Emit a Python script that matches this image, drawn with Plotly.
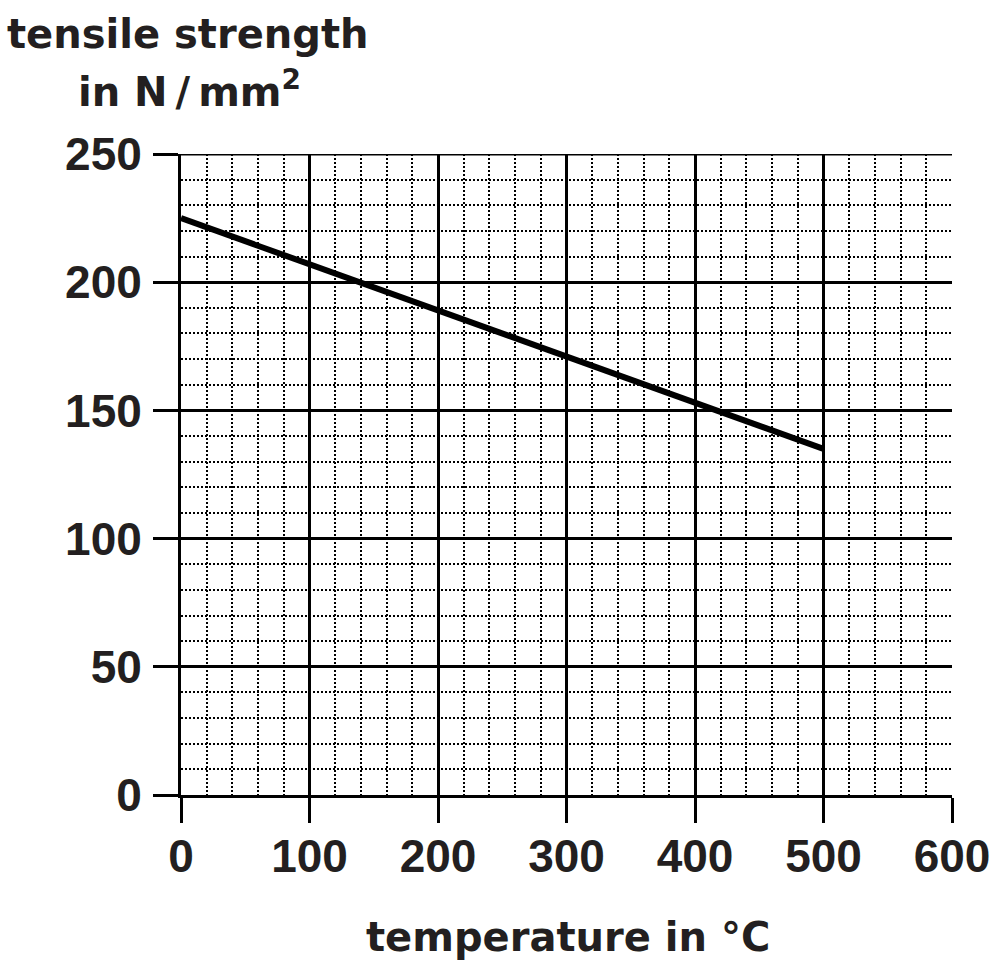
import plotly.graph_objects as go

temperature = [0, 500]
tensile_strength = [225, 135]
x_ticks = [0, 100, 200, 300, 400, 500, 600]
y_ticks = [0, 50, 100, 150, 200, 250]

TICK_FONT = "Liberation Sans"
TITLE_FONT = "DejaVu Sans"
INK = "#231f20"

fig = go.Figure()
fig.add_trace(go.Scatter(
    x=temperature, y=tensile_strength, mode="lines",
    line=dict(color="black", width=6), showlegend=False, hoverinfo="skip"))

axis_common = dict(
    showline=True, linecolor="black", linewidth=3, mirror=False,
    showgrid=True, gridcolor="black", gridwidth=2.5,
    ticks="outside", ticklen=25, tickwidth=3, tickcolor="black",
    zeroline=False, automargin=False,
    tickfont=dict(family=TICK_FONT, size=46, color=INK, weight="bold"),
)

fig.update_xaxes(
    range=[0, 600], tickvals=x_ticks, ticktext=[str(v) for v in x_ticks],
    minor=dict(dtick=20, showgrid=True, gridcolor="black", gridwidth=2,
               griddash="2px,2px", ticks=""),
    ticklabelstandoff=-6,
    **axis_common)
fig.update_yaxes(
    range=[0, 250], tickvals=y_ticks, ticktext=[str(v) for v in y_ticks],
    minor=dict(dtick=10, showgrid=True, gridcolor="black", gridwidth=2,
               griddash="2px,2px", ticks=""),
    ticklabelstandoff=2,
    **axis_common)

# top border line extending over the 250 tick
fig.add_shape(type="line", xref="paper", yref="y", x0=-25/771, x1=1, y0=250, y1=250,
              line=dict(color="black", width=3))

PW, PH, X0, Y0 = 771, 641, 181, 154

def px(x):
    return (x - X0) / PW

def py(y):
    return 1 - (y - Y0) / PH

fig.add_annotation(text="<b>tensile strength</b>", xref="paper", yref="paper",
                   x=px(188), y=py(34), showarrow=False,
                   font=dict(family=TITLE_FONT, size=40, color=INK),
                   xanchor="center", yanchor="middle")
fig.add_annotation(text="<b>in N\u2009/\u2009mm<sup>2</sup></b>", xref="paper", yref="paper",
                   x=px(189), y=py(89), showarrow=False,
                   font=dict(family=TITLE_FONT, size=40, color=INK),
                   xanchor="center", yanchor="middle")
fig.add_annotation(text="<b>temperature in °C</b>", xref="paper", yref="paper",
                   x=px(568), y=py(937), showarrow=False,
                   font=dict(family=TITLE_FONT, size=40, color=INK),
                   xanchor="center", yanchor="middle")

fig.update_layout(
    width=995, height=967,
    margin=dict(l=181, r=43, t=154, b=172),
    plot_bgcolor="white", paper_bgcolor="white",
    font=dict(family=TICK_FONT, color=INK),
)

fig.write_html("out.html", config={"displayModeBar": False},
               post_script="document.body.style.margin='0';")
